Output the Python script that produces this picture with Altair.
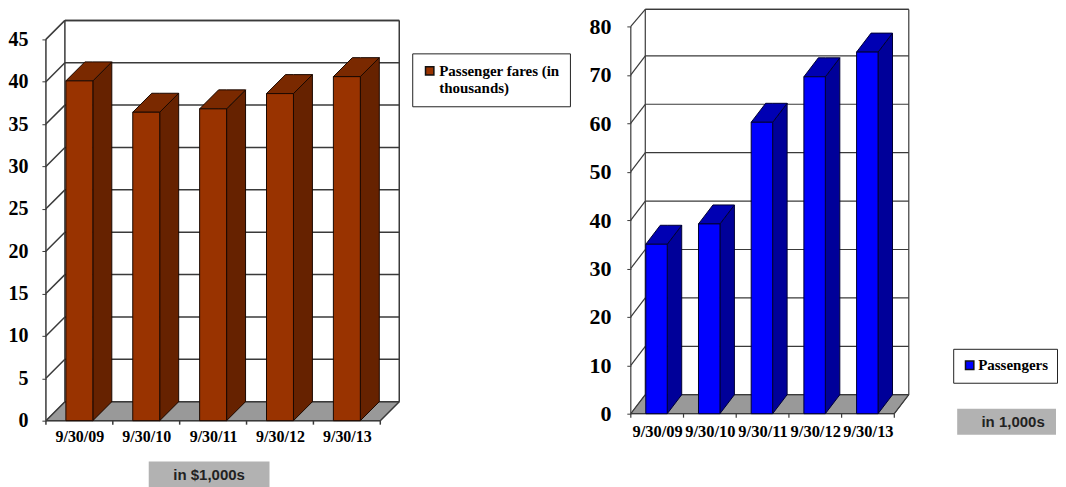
import altair as alt
import pandas as pd

CATEGORIES = ["9/30/09", "9/30/10", "9/30/11", "9/30/12", "9/30/13"]
FARES = [40.1, 36.4, 36.8, 38.6, 40.6]
PASSENGERS = [35.0, 39.2, 60.2, 69.6, 74.7]
FARE_TICKS = [0, 5, 10, 15, 20, 25, 30, 35, 40, 45]
PASSENGER_TICKS = [0, 10, 20, 30, 40, 50, 60, 70, 80]
SERIF = "Liberation Serif"
SANS = "Liberation Sans"
label_expr = "[" + ",".join(f"'{c}'" for c in CATEGORIES) + "][floor(datum.value)]"


def panel(values, ticks, series, note, opt):
    n = len(values)
    px_x, px_y = opt["px_x"], opt["px_y"]
    d = opt["dx"] / px_x
    dv = opt["dy"] / px_y
    xmax = opt["width"] / px_x
    ymax = opt["height"] / px_y
    top = min(ticks[-1] + dv, ymax)
    off = opt["bar_off"] / px_x
    bw = opt["bar_w"] / px_x
    xs = alt.Scale(domain=[0, xmax], nice=False, zero=False)
    ys = alt.Scale(domain=[0, ymax], nice=False, zero=False)

    x_axis = alt.Axis(values=[i + 0.5 for i in range(n)], ticks=False, domain=False, grid=False,
                      labelExpr=label_expr, labelFont=SERIF, labelFontWeight="bold",
                      labelFontSize=opt["x_fs"], labelColor="black", labelPadding=opt["x_pad"],
                      labelFlush=False, labelOverlap=False, title=None)
    line_col = "#3a3a3a"
    y_axis = alt.Axis(values=ticks, domain=False, grid=False, tickSize=4, tickColor=line_col,
                      labelFont=SERIF, labelFontWeight="bold", labelFontSize=opt["y_fs"],
                      labelColor="black", labelPadding=opt["y_pad"], labelFlush=False,
                      labelOverlap=False, title=None)

    def X(f):
        return alt.X(f, type="quantitative", scale=xs, axis=x_axis)

    def Y(f):
        return alt.Y(f, type="quantitative", scale=ys, axis=y_axis)

    seg = []
    for t in ticks:
        seg.append((0, min(t, top), d, min(t + dv, top)))
        seg.append((d, min(t + dv, top), n + d, min(t + dv, top)))
    seg += [(0, 0, 0, ticks[-1]), (d, dv, d, top), (n + d, dv, n + d, top),
            (d, top, n + d, top), (0, 0, n, 0), (n, 0, n + d, dv)]
    tick_low = -4 / px_y
    for i in range(n + 1):
        seg.append((i, 0, i, tick_low))
    seg_df = pd.DataFrame(seg, columns=["x", "y", "x2", "y2"])

    floor_df = pd.DataFrame({"x": [0, d, n, n + d], "y": [0, dv, dv, dv], "y2": [0, 0, 0, dv]})

    side, cap, front = [], [], []
    for i, v in enumerate(values):
        a = i + off
        b = a + bw
        side += [dict(bar=i, x=b, y=v, y2=0), dict(bar=i, x=b + d, y=v + dv, y2=dv)]
        cap += [dict(bar=i, x=a, y=v, y2=v), dict(bar=i, x=a + d, y=v + dv, y2=v),
                dict(bar=i, x=b, y=v + dv, y2=v), dict(bar=i, x=b + d, y=v + dv, y2=v + dv)]
        front.append(dict(x=a, x2=b, y=v, y2=0, series=series))

    floor = alt.Chart(floor_df).mark_area(color="#999999", stroke="#555555", strokeWidth=1).encode(
        x=X("x"), y=Y("y"), y2="y2")
    lines = alt.Chart(seg_df).mark_rule(color=line_col, strokeWidth=opt["grid_w"]).encode(
        x=X("x"), x2="x2", y=Y("y"), y2="y2")
    sides = alt.Chart(pd.DataFrame(side)).mark_area(
        color=opt["side"], stroke=opt["edge"], strokeWidth=1).encode(
        x=X("x"), y=Y("y"), y2="y2", detail="bar:N")
    caps = alt.Chart(pd.DataFrame(cap)).mark_area(
        color=opt["cap"], stroke=opt["edge"], strokeWidth=1).encode(
        x=X("x"), y=Y("y"), y2="y2", detail="bar:N")
    fronts = alt.Chart(pd.DataFrame(front)).mark_bar(stroke=opt["edge"], strokeWidth=1).encode(
        x=X("x"), x2="x2", y=Y("y"), y2="y2",
        color=alt.Color("series:N",
                        scale=alt.Scale(domain=[series], range=[opt["front"]]),
                        legend=alt.Legend(
                            title=None, orient="none",
                            legendX=opt["leg_x"], legendY=opt["leg_y"],
                            strokeColor="#222222", fillColor="white",
                            padding=opt["leg_pad"],
                            labelFont=SERIF, labelFontWeight="bold",
                            labelFontSize=opt["leg_fs"], labelLimit=300,
                            labelOffset=opt["leg_off"], symbolOffset=opt["sym_off"],
                            labelExpr=("datum.label == 'Passenger fares (in thousands)' "
                                       "? ['Passenger fares (in', 'thousands)'] : datum.label"),
                            symbolType="square", symbolSize=70,
                            symbolStrokeColor="#111111", symbolStrokeWidth=1.5)))

    bx0, bx1, by0, by1 = opt["box"]
    note_df = pd.DataFrame({
        "note": [note],
        "x": [bx0 / px_x], "x2": [bx1 / px_x],
        "y": [(opt["height"] - by0) / px_y], "y2": [(opt["height"] - by1) / px_y],
        "cx": [opt["note_x"] / px_x], "cy": [(opt["height"] - (by0 + by1) / 2) / px_y],
    })
    box = alt.Chart(note_df).mark_rect(color="#b2b2b2").encode(x=X("x"), x2="x2", y=Y("y"), y2="y2")
    txt = alt.Chart(note_df).mark_text(font=SANS, fontWeight="bold", fontSize=15, color="#222222").encode(
        x=X("cx"), y=Y("cy"), text="note:N")

    return alt.layer(floor, lines, sides, caps, fronts, box, txt).properties(
        width=opt["width"], height=opt["height"])


left = panel(FARES, FARE_TICKS, "Passenger fares (in thousands)", "in $1,000s", dict(
    px_x=67, px_y=8.49, dx=19, dy=19, width=354, height=412, bar_off=20, bar_w=27,
    front="#993300", side="#662200", cap="#7a2900", edge="#1a0800", grid_w=1.5,
    leg_x=367, leg_y=44, leg_pad=10, leg_fs=15, leg_off=2, sym_off=0,
    x_fs=16, x_pad=8, y_fs=20, y_pad=14,
    box=(103, 224, 453, 479), note_x=163.5))
right = panel(PASSENGERS, PASSENGER_TICKS, "Passengers", "in 1,000s", dict(
    px_x=52.8, px_y=4.85, dx=14.5, dy=19, width=279.5, height=405, bar_off=15, bar_w=21.5,
    front="#0000ff", side="#000099", cap="#0000b3", edge="#000033", grid_w=1.2,
    leg_x=323, leg_y=340, leg_pad=9, leg_fs=15, leg_off=1, sym_off=0,
    x_fs=16.5, x_pad=10, y_fs=22, y_pad=16,
    box=(327, 426, 400, 426), note_x=383))

chart = alt.hconcat(left, right, spacing=18, padding=0).resolve_scale(
    color="independent").configure_view(stroke=None)

chart.save("out.html", embed_options={"renderer": "svg", "actions": False})
